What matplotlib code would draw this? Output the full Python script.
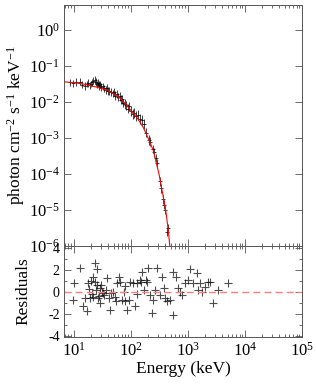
import matplotlib
matplotlib.use('Agg')
import matplotlib.pyplot as plt
import numpy as np
from matplotlib.ticker import LogLocator, MultipleLocator, NullFormatter

plt.rcParams['font.family'] = ['Liberation Serif', 'DejaVu Serif']
plt.rcParams['mathtext.fontset'] = 'custom'
plt.rcParams['mathtext.rm'] = 'Liberation Serif'
plt.rcParams['mathtext.it'] = 'Liberation Serif:italic'
plt.rcParams['axes.unicode_minus'] = False

# unfolded spectrum: energy (keV), log10 flux, error (dex)
spec_e = [8.5, 9.7, 11, 12.7, 14, 15.5, 17, 18, 19, 20, 21, 22, 23, 24, 25, 26, 27, 28,
          29, 30, 32, 34, 36, 38, 40, 42, 45, 48, 50, 53, 56, 60, 63, 66, 70, 74, 78, 83,
          88, 93, 100, 108, 115, 125, 135, 145, 155, 170, 185, 205, 220, 240, 255, 270,
          290, 320, 340, 360, 380, 400, 430, 450]
spec_logn = [-1.45, -1.48, -1.44, -1.43, -1.52, -1.55, -1.50, -1.47, -1.53, -1.49, -1.45,
             -1.40, -1.38, -1.44, -1.50, -1.46, -1.52, -1.55, -1.51, -1.58, -1.56, -1.62,
             -1.66, -1.60, -1.70, -1.68, -1.73, -1.76, -1.72, -1.82, -1.78, -1.86, -1.84,
             -1.93, -1.92, -2.02, -2.05, -2.09, -2.18, -2.12, -2.25, -2.32, -2.30, -2.38,
             -2.36, -2.48, -2.50, -2.62, -2.85, -3.05, -3.10, -3.30, -3.40, -3.55, -3.70,
             -4.20, -4.40, -4.70, -4.85, -5.00, -5.60, -5.50]
spec_err = [0.09, 0.09, 0.10, 0.09, 0.10, 0.10, 0.09, 0.10, 0.10, 0.09, 0.10, 0.10, 0.11,
            0.10, 0.10, 0.10, 0.10, 0.10, 0.10, 0.10, 0.10, 0.10, 0.11, 0.10, 0.11, 0.11,
            0.11, 0.11, 0.11, 0.12, 0.11, 0.12, 0.12, 0.12, 0.12, 0.12, 0.13, 0.12, 0.13,
            0.13, 0.13, 0.14, 0.13, 0.14, 0.14, 0.14, 0.14, 0.14, 0.13, 0.13, 0.12, 0.12,
            0.12, 0.12, 0.12, 0.12, 0.12, 0.12, 0.12, 0.12, 0.12, 0.12]

# best-fit model curve
model_e = [6.7, 10, 15, 22, 34, 43, 55, 70, 96, 130, 164, 200, 247, 310, 370, 410, 450, 480, 520]
model_logn = [-1.435, -1.46, -1.50, -1.56, -1.64, -1.71, -1.80, -1.94, -2.20, -2.45, -2.70,
              -3.00, -3.35, -4.00, -4.65, -5.05, -5.55, -6.00, -6.60]

# residuals (sigma)
res_e = [10.0, 9.5, 12.7, 14.2, 17.1, 15.5, 17.8, 19.1, 23, 25.6, 21.8, 23.5, 25, 28.6, 31,
         33.6, 36, 26.5, 37.3, 40.5, 43.5, 53, 58, 62, 64, 48.8, 69, 75, 80, 84, 92, 98, 110,
         118, 127, 143, 157, 168, 180, 188, 203, 215, 233, 247, 268, 285, 323, 350, 375, 400,
         423, 490, 553, 553, 628, 680, 724, 780, 890, 1010, 1090, 1240, 1420, 1520, 1620,
         1750, 2000, 2270, 2440, 2790, 3400, 5000,
         18.5, 21, 24, 27, 30, 32, 20, 22, 29, 45, 55, 80, 150, 130]
res_val = [0.78, -0.72, 2.2, -1.32, -1.7, -0.57, 0.78, -0.57, 2.57, 2.07, 1.38, 0.93, 0.63,
           0.33, 0.03, -0.27, 0.18, -0.57, 1.23, -0.57, -1.61, -0.42, 0.78, 1.38, 0.93, 0.03,
           -0.72, 0.03, -0.87, -1.61, -0.72, 0.93, 0.78, -1.32, 0.78, 1.08, 1.83, 0.18, 1.08,
           0.93, 2.2, -0.27, -1.91, -0.72, 0.18, 2.2, -0.27, 1.38, 0.33, -0.57, -0.87, -0.72,
           1.83, -2.06, 1.38, 0.33, 0.03, -0.27, 0.78, 1.08, 2.07, 0.78, 1.68, 0.18, 0.78,
           0.03, 0.48, 0.93, 0.93, -1.02, 0.18, 0.78,
           0.3, -0.15, 0.15, -0.4, 0.6, -0.1, 1.0, -0.5, -1.0, -0.1, -0.8, 0.5, 0.9, -0.2]

flux_ticks = [1e-6, 1e-5, 1e-4, 1e-3, 1e-2, 1e-1, 1e0]
energy_ticks = [1e1, 1e2, 1e3, 1e4, 1e5]
res_ticks = [-4, -2, 0, 2, 4]

fig = plt.figure(figsize=(3.16, 3.88), dpi=100)
ax = fig.add_axes([0.2025, 0.366, 0.7535, 0.621])
ax_r = fig.add_axes([0.2025, 0.131, 0.7535, 0.235], sharex=ax)

flux = 10 ** np.array(spec_logn)
err = np.array(spec_err)
yerr = [flux - flux * 10 ** -err, flux * 10 ** err - flux]
ax.errorbar(spec_e, flux, yerr=yerr, fmt='none', ecolor='k', elinewidth=0.7, alpha=0.75)
ax.plot(spec_e, flux, ls='none', marker='_', ms=2.5, mew=0.7, color='k', alpha=0.75)
ax.plot(model_e, 10 ** np.array(model_logn), color='red', lw=0.8)

ax.set_xscale('log')
ax.set_yscale('log')
ax.set_yticks(flux_ticks)
ax.set_yticks([], minor=True)
ax.set_xticks(energy_ticks)
ax.xaxis.set_minor_locator(LogLocator(base=10, subs=np.arange(2, 10), numticks=20))
ax.xaxis.set_minor_formatter(NullFormatter())
ax.set_xlim(6.7, 1e5)
ax.set_ylim(1e-6, 5)
ax.set_ylabel('photon cm$^{-2}$ s$^{-1}$ keV$^{-1}$', fontsize=12.5, labelpad=1)
ax.tick_params(axis='x', labelbottom=False)

ax_r.plot(res_e, res_val, ls='none', marker='+', ms=6, mew=0.8, color='k', alpha=0.7)
ax_r.axhline(0, color='#ff7f7f', lw=1.0, ls=(0, (5, 3)))
ax_r.set_yticks(res_ticks)
ax_r.yaxis.set_minor_locator(MultipleLocator(1))
ax_r.set_ylim(-4.1, 4.15)
ax_r.set_ylabel('Residuals', fontsize=12.5, labelpad=12)
ax_r.set_xlabel('Energy (keV)', fontsize=12.5, labelpad=1)

for a in (ax, ax_r):
    a.tick_params(which='both', direction='in', top=True, right=True, labelsize=12,
                  width=0.6, color='#555555', pad=3)
    a.tick_params(which='major', length=5)
    a.tick_params(which='minor', length=2.5)
    for s in a.spines.values():
        s.set_linewidth(0.7)
        s.set_color('#555555')
ax_r.tick_params(axis='y', labelsize=10)

fig.savefig('out.png', dpi=100)
